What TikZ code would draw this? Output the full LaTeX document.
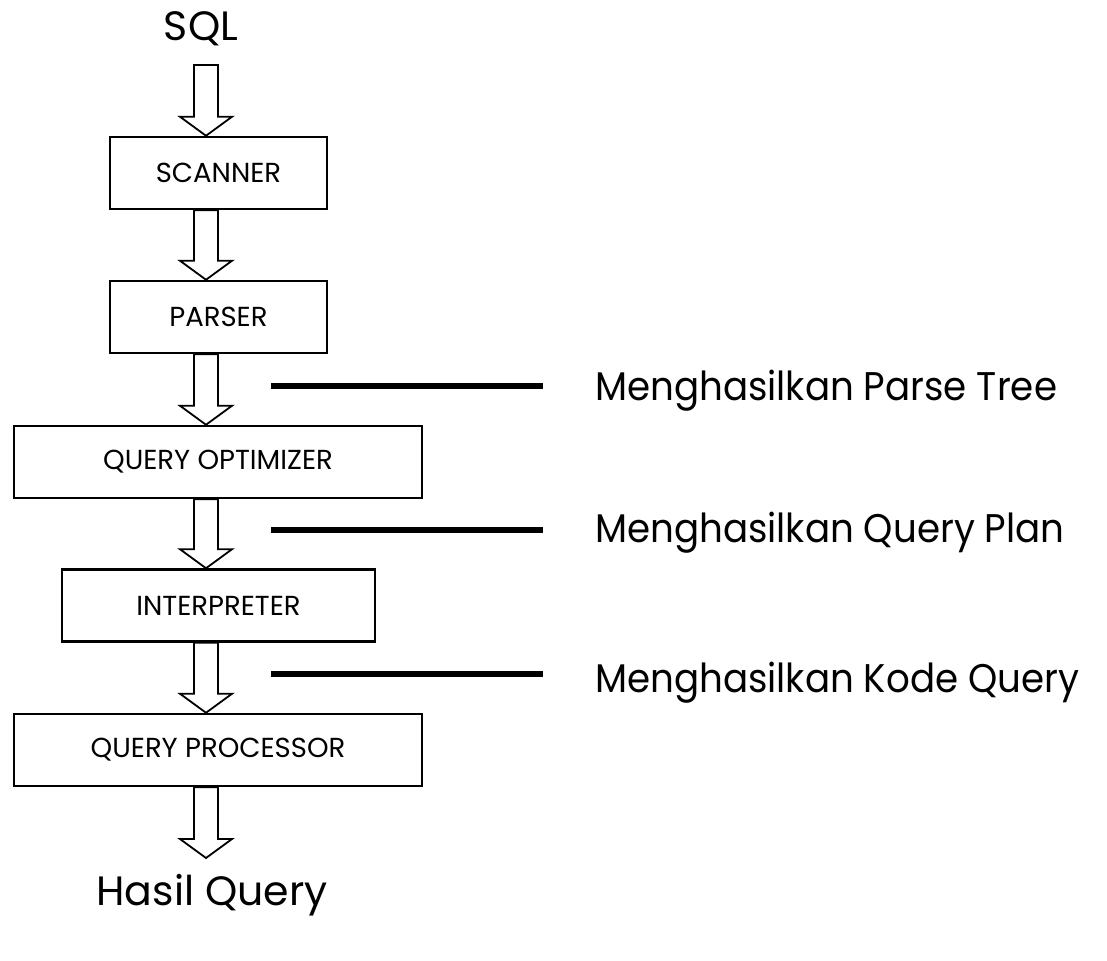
\documentclass[tikz,border=0pt]{standalone}
\usepackage{fontspec}
\setmainfont{Poppins}
\newfontfamily\futlike[FakeStretch=0.93]{Poppins}
\usetikzlibrary{calc}
\tikzset{
  x=1pt, y=-1pt,
  procbox/.style={draw=black, line width=2.5pt, fill=white, inner sep=0pt,
    minimum height=72pt, font=\fontsize{27.5}{32}\selectfont},
  barrow/.style={draw=black, line width=1.8pt, fill=white, line join=miter},
  lead/.style={draw=black, line width=6.5pt},
  biglabel/.style={inner sep=0pt, font=\futlike\fontsize{40}{46}\selectfont},
  endlabel/.style={inner sep=0pt, font=\fontsize{41}{46}\selectfont}
}
\newcommand\blockarr[2]{%
  \draw[barrow] let \p1=(#1), \p2=(#2) in
   (\x1-12pt,\y1) -- (\x1-12pt,\y2+19pt) -- (\x1-26pt,\y2+19pt) -- (\x1,\y2)
   -- (\x1+26pt,\y2+19pt) -- (\x1+12pt,\y2+19pt) -- (\x1+12pt,\y1) -- cycle;}
\begin{document}
\begin{tikzpicture}
\useasboundingbox (0,0) rectangle (1107,960);
% texts
\node[endlabel, anchor=base] (sql) at (201,41) {SQL};
\node[endlabel, anchor=base] (hasil) at (212,905) {Hasil Query};
% boxes
\node[procbox, minimum width=217pt] (scanner) at (218.5,173) {SCANNER};
\node[procbox, minimum width=217pt] (parser) at (218.5,317) {PARSER};
\node[procbox, minimum width=408pt] (optim) at (218,462) {QUERY OPTIMIZER};
\node[procbox, minimum width=313pt] (interp) at (218.5,605.5) {INTERPRETER};
\node[procbox, minimum width=408pt] (proc) at (218,750) {QUERY PROCESSOR};
% arrows
\coordinate (a0) at (206,65);
\coordinate (aend) at (206,858);
\blockarr{a0}{scanner.north -| a0}
\blockarr{scanner.south -| a0}{parser.north -| a0}
\blockarr{parser.south -| a0}{optim.north -| a0}
\blockarr{optim.south -| a0}{interp.north -| a0}
\blockarr{interp.south -| a0}{proc.north -| a0}
\blockarr{proc.south -| a0}{aend}
% lead lines and labels
\coordinate (l1a) at (271,386); \coordinate (l1b) at (543,386);
\coordinate (l2a) at (271,530); \coordinate (l2b) at (543,530);
\coordinate (l3a) at (271,674); \coordinate (l3b) at (543,674);
\draw[lead] (l1a) -- (l1b);
\draw[lead] (l2a) -- (l2b);
\draw[lead] (l3a) -- (l3b);
\node[biglabel, anchor=base west] (t1) at (595,400) {Menghasilkan Parse Tree};
\node[biglabel, anchor=base west] (t2) at (595,542) {Menghasilkan Query Plan};
\node[biglabel, anchor=base west] (t3) at (595,692) {Menghasilkan Kode Query};
\end{tikzpicture}
\end{document}
